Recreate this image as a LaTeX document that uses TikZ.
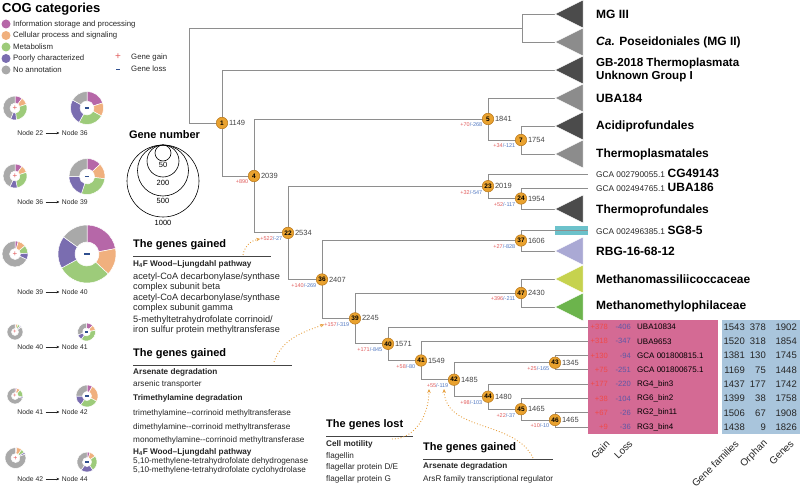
\documentclass[tikz,border=0pt]{standalone}
\usepackage{fontspec}
\setmainfont{Liberation Sans}
\usepackage{xcolor}
\usepackage{tikz}
\usetikzlibrary{arrows.meta}
\usetikzlibrary{positioning}
\definecolor{InfoC}{HTML}{B667A8}
\definecolor{CellC}{HTML}{F0B07E}
\definecolor{MetaC}{HTML}{9DCB7A}
\definecolor{PoorC}{HTML}{7A6DB0}
\definecolor{NoneC}{HTML}{A9A9A9}
\definecolor{GainRed}{HTML}{E05A5A}
\definecolor{LossBlue}{HTML}{4F76C0}
\definecolor{SignBlue}{HTML}{2F4F8F}
\definecolor{TabRed}{HTML}{F04A4A}
\definecolor{TabBlue}{HTML}{5E58A6}
\definecolor{TabPink}{HTML}{D46A94}
\definecolor{TabSky}{HTML}{A9C5DC}
\definecolor{NodeOrange}{HTML}{E9A22F}
\definecolor{NodeEdge}{HTML}{B9771A}
\definecolor{BranchGray}{HTML}{8E8E8E}
\definecolor{CladeDark}{HTML}{4B4B4B}
\definecolor{CladeLight}{HTML}{8C8C8C}
\definecolor{RBGC}{HTML}{AAA9D4}
\definecolor{MassC}{HTML}{C6D24E}
\definecolor{MethC}{HTML}{6CB44C}
\definecolor{SGC}{HTML}{6CC2CB}
\definecolor{LinkOrange}{HTML}{E6A040}
\definecolor{TextDark}{HTML}{262626}
\definecolor{ValGray}{HTML}{444444}
\definecolor{RuleGray}{HTML}{444444}
\newcommand{\fsz}[1]{\fontsize{#1}{#1}\selectfont}
\newcommand{\gl}[2]{\textcolor{GainRed}{+#1}\textcolor{LossBlue}{/-#2}}
\newcommand{\gsign}[1]{\fsz{#1}\textcolor{GainRed}{+}}
\newcommand{\lsign}[1]{\textcolor{SignBlue}{\rule[-0.7pt]{#1pt}{1.5pt}}}
\pgfdeclarelayer{bg}
\pgfsetlayers{bg,main}
\tikzset{
  TreeNode/.style={circle, fill=NodeOrange, draw=NodeEdge, line width=0.5pt,
    minimum size=11.5pt, inner sep=0pt, font=\bfseries\fsz{6.5}},
  NodeVal/.style={inner sep=0.8pt, text=ValGray, font=\fsz{7.5}},
  GainLoss/.style={anchor=east, inner sep=0pt, font=\fsz{5.5}},
  Branch/.style={draw=BranchGray, line width=0.9pt},
  CladeLabel/.style={anchor=west, inner sep=0pt, font=\bfseries\fsz{12}},
  Accession/.style={anchor=base west, inner sep=0pt},
  HeadText/.style={anchor=west, inner sep=0pt, font=\bfseries\fsz{11}},
  SubHead/.style={anchor=west, inner sep=0pt, font=\bfseries\fsz{8.2}, text=TextDark},
  BodyText/.style={anchor=west, inner sep=0pt, font=\fsz{8.2}, text=TextDark},
  BigBody/.style={BodyText, font=\fsz{9.2}},
  RuleLine/.style={draw=RuleGray, line width=0.8pt},
  GainLink/.style={draw=LinkOrange, dotted, line width=0.9pt,
    -{Stealth[length=4pt,width=3.5pt]}},
  LegText/.style={anchor=west, inner sep=0pt, font=\fsz{7.8}, text=TextDark},
  PairText/.style={inner sep=2.2pt, font=\fsz{6.8}, text=TextDark},
  PairArrow/.style={draw=TextDark, line width=0.4pt, -{Stealth[length=3pt,width=2.6pt]}},
  SizeText/.style={inner sep=0pt, font=\fsz{7.5}},
  TabGain/.style={anchor=east, inner sep=0pt, font=\fsz{7.6}, text=TabRed},
  TabLoss/.style={anchor=east, inner sep=0pt, font=\fsz{7.6}, text=TabBlue},
  TabName/.style={anchor=west, inner sep=0pt, font=\fsz{8}},
  TabNum/.style={anchor=east, inner sep=0pt, font=\fsz{9.5}, text=TextDark},
  ColHead/.style={anchor=east, rotate=45, inner sep=0pt, font=\fsz{10}, text=TextDark},
}
\newcommand{\cogring}[6]{%
  \begin{scope}[shift={(#1,#2)}]
    \gdef\cogA{90}
    \foreach \pv/\pcol in {#5} {
      \pgfmathsetmacro\cogB{\cogA-3.6*\pv}
      \fill[\pcol, draw=white, line width=0.5pt] (\cogA:#3pt) arc[start angle=\cogA, end angle=\cogB, radius=#3pt]
        -- (\cogB:#4pt) arc[start angle=\cogB, end angle=\cogA, radius=#4pt] -- cycle;
      \global\let\cogA\cogB
    }
    \node[inner sep=0pt] at (0,0) {#6};
  \end{scope}}

\begin{document}
\begin{tikzpicture}[x=1pt,y=-1pt]
\useasboundingbox (0,0) rectangle (800,497);

\node[anchor=west, inner sep=0pt, font=\bfseries\fsz{13}] (cogtitle) at (2,9) {COG categories};
\foreach \lc/\lt [count=\i] in {InfoC/Information storage and processing, CellC/Cellular process and signaling,
  MetaC/Metabolism, PoorC/Poorly characterized, NoneC/No annotation} {
  \pgfmathsetmacro\legy{24+11.5*(\i-1)}
  \fill[\lc] (6,\legy) circle[radius=4.5pt];
  \node[LegText] (leg\i) at (13,\legy) {\lt};
}
\node[inner sep=0pt, font=\fsz{10}, text=GainRed] (gsym) at (118,56.5) {+};
\node[LegText] (gtxt) at (131,57) {Gene gain};
\node[inner sep=0pt] (lsym) at (118,69.5) {\lsign{4}};
\node[LegText] (ltxt) at (131,69) {Gene loss};

\cogring{15}{108}{12}{5}{10/InfoC,10/CellC,28/MetaC,8/PoorC,44/NoneC}{\gsign{8}}
\cogring{87}{108}{16.5}{7}{20/InfoC,13/CellC,25/MetaC,25/PoorC,17/NoneC}{\lsign{4.5}}
\cogring{15}{176}{12}{5}{10/InfoC,10/CellC,27/MetaC,10/PoorC,43/NoneC}{\gsign{8}}
\cogring{87}{176.5}{18}{7.5}{13/InfoC,14/CellC,28/MetaC,20/PoorC,25/NoneC}{\lsign{4.5}}
\cogring{15}{254}{13}{5.5}{4/InfoC,10/CellC,10/MetaC,8/PoorC,68/NoneC}{\gsign{8}}
\cogring{87}{254}{29}{12}{22/InfoC,15/CellC,30/MetaC,18/PoorC,15/NoneC}{\lsign{5.5}}
\cogring{15}{332}{8}{3.5}{2/InfoC,4/CellC,5/MetaC,3/PoorC,86/NoneC}{\gsign{6}}
\cogring{86.5}{332}{9}{4}{12/InfoC,10/CellC,38/MetaC,10/PoorC,30/NoneC}{\lsign{3.5}}
\cogring{15}{396}{8}{3.5}{4/InfoC,7/CellC,16/MetaC,3/PoorC,70/NoneC}{\gsign{6}}
\cogring{87}{396}{11}{4.5}{8/InfoC,25/CellC,27/MetaC,15/PoorC,25/NoneC}{\lsign{4}}
\cogring{15.5}{458}{10.5}{4.5}{2/InfoC,8/CellC,6/MetaC,3/PoorC,81/NoneC}{\gsign{7}}
\cogring{87}{462}{10}{4.5}{5/InfoC,10/CellC,25/MetaC,20/PoorC,40/NoneC}{\lsign{4}}

\foreach \pa/\pb/\py [count=\i] in {22/36/133, 36/39/202, 39/40/292, 40/41/347, 41/42/412, 42/44/479} {
  \node[PairText, anchor=west] (pa\i) at (15,\py) {Node \pa};
  \node[PairText, anchor=east] (pb\i) at (90,\py) {Node \pb};
  \draw[PairArrow] (pa\i) -- (pb\i);
}

\node[HeadText, anchor=center] (gnum) at (164.5,135) {Gene number};
\foreach \rr/\rt/\ty in {8/50/165, 16/200/183, 25.5/500/201, 36/1000/223} {
  \draw[line width=0.6pt] (163,{145+\rr}) circle[radius=\rr pt];
  \node[SizeText] at (163,\ty) {\rt};
}

\foreach \n/\nx/\ny/\val/\glab in {
  1/222/123/1149/{},
  4/254/176/2039/{\textcolor{GainRed}{+890}},
  5/488/119/1841/{\gl{70}{268}},
  7/521/140/1754/{\gl{34}{121}},
  22/288/232.9/2534/{\gl{522}{27}},
  23/488/186.2/2019/{\gl{32}{547}},
  24/521/198.5/1954/{\gl{52}{117}},
  36/322/279.5/2407/{\gl{140}{269}},
  37/521/240.5/1606/{\gl{27}{828}},
  39/355/318.4/2245/{\gl{157}{319}},
  47/521/293/2430/{\gl{396}{211}},
  40/388/343.8/1571/{\gl{171}{845}},
  41/421/360.5/1549/{\gl{58}{80}},
  42/454/379.7/1485/{\gl{55}{119}},
  43/555/362.75/1345/{\gl{25}{165}},
  44/488/396.7/1480/{\gl{98}{103}},
  45/521/409.2/1465/{\gl{22}{37}},
  46/555/419.95/1465/{\gl{10}{10}}} {
  \node[TreeNode] (n\n) at (\nx,\ny) {\n};
  \node[NodeVal, right=0pt of n\n] (v\n) {\val};
  \node[GainLoss] (g\n) at ({\nx-5.5},{\ny+6}) {\glab};
}

\coordinate (root) at (189,75.5);
\coordinate (cMG) at (522,28);
\foreach \lf/\lx/\ly in {lMGIII/555/14, lMGII/555/42, lGB/555/70, lUBA184/555/98, lAcid/555/126,
  lThermopl/555/154, lCG/588/174, lUBA186/588/188, lThermopr/555/209, lSG/555/230, lRBG/555/251,
  lMassil/555/279, lMethyl/555/307}
  \coordinate (\lf) at (\lx,\ly);
\foreach \k in {1,...,8}
  \coordinate (lR\k) at (588,{327+14.3*(\k-1)});

\begin{pgfonlayer}{bg}
\foreach \a/\b in {root/cMG, root/n1, cMG/lMGIII, cMG/lMGII, n1/lGB, n1/n4, n4/n5, n4/n22,
  n5/lUBA184, n5/n7, n7/lAcid, n7/lThermopl, n22/n23, n22/n36, n23/lCG, n23/n24,
  n24/lUBA186, n24/lThermopr, n36/n37, n36/n39, n37/lSG, n37/lRBG, n39/n47, n39/n40,
  n47/lMassil, n47/lMethyl, n40/lR1, n40/n41, n41/lR2, n41/n42, n42/n43, n42/n44,
  n43/lR3, n43/lR4, n44/lR5, n44/n45, n45/lR6, n45/n46, n46/lR7, n46/lR8}
  \draw[Branch] (\a.center) |- (\b.center);
\end{pgfonlayer}

\foreach \yc/\trc in {14/CladeDark, 42/CladeLight, 70/CladeDark, 98/CladeLight, 126/CladeDark,
  154/CladeLight, 209/CladeDark, 251/RBGC, 279/MassC, 307/MethC}
  \fill[\trc, draw=white, line width=0.5pt] (555,\yc) -- (583,{\yc-14}) -- (583,{\yc+14}) -- cycle;
\fill[SGC] (555,226) rectangle (588,234.5);
\draw[BranchGray, line width=0.5pt] (lSG) -- (588,230);

\foreach \ly/\lt [count=\i] in {14/{MG III}, 42/{\textit{Ca.} Poseidoniales (MG II)}, 98/UBA184,
  126/Acidiprofundales, 154/Thermoplasmatales, 210/Thermoprofundales, 251/RBG-16-68-12,
  279/Methanomassiliicoccaceae, 306/Methanomethylophilaceae}
  \node[CladeLabel] (cl\i) at (596,\ly) {\lt};
\node[CladeLabel, align=left, font=\bfseries\fontsize{11.6}{12.8}\selectfont] (clGB) at (596,70)
  {GB-2018 Thermoplasmata\\Unknown Group I};
\foreach \ly/\acc/\nm [count=\i] in {178/{GCA 002790055.1}/CG49143, 192/{GCA 002494765.1}/UBA186,
  234/{GCA 002496385.1}/SG8-5}
  \node[Accession] (acc\i) at (596,\ly) {{\fsz{8.3}\color{TextDark}\acc}\ {\bfseries\fsz{12}\nm}};

\fill[TabPink] (588,320) rectangle (718,434);
\fill[TabSky] (722,320) rectangle (800,434);
\foreach \gv/\lv/\nm/\fv/\ov/\tv [count=\k from 0] in {
  378/406/UBA10834/1543/378/1902,
  318/347/UBA9653/1520/318/1854,
  130/94/GCA 001800815.1/1381/130/1745,
  75/251/GCA 001800675.1/1169/75/1448,
  177/220/RG4\_bin3/1437/177/1742,
  38/104/RG6\_bin2/1399/38/1758,
  67/26/RG2\_bin11/1506/67/1908,
  9/36/RG3\_bin4/1438/9/1826} {
  \pgfmathsetmacro\ry{327+14.3*\k}
  \node[TabGain] (tg\k) at (608,\ry) {+\gv};
  \node[TabLoss] (tl\k) at (631,\ry) {-\lv};
  \node[TabName] (tn\k) at (637,\ry) {\nm};
  \node[TabNum] (tf\k) at (745,\ry) {\fv};
  \node[TabNum] (to\k) at (766,\ry) {\ov};
  \node[TabNum] (tt\k) at (797,\ry) {\tv};
}
\node[ColHead] (hGain) at (608,442) {Gain};
\node[ColHead] (hLoss) at (631,442) {Loss};
\node[ColHead] (hFam) at (737,442) {Gene families};
\node[ColHead] (hOrph) at (766,442) {Orphan};
\node[ColHead] (hGenes) at (792,442) {Genes};

\node[HeadText] (hdA) at (133,245) {The genes gained};
\draw[RuleLine] (133,256) -- (271,256);
\foreach \ty/\tx/\st [count=\i] in {264/{H\textsubscript{4}F Wood--Ljungdahl pathway}/SubHead,
  277/{acetyl-CoA decarbonylase/synthase}/BigBody, 287/{complex subunit beta}/BigBody,
  298/{acetyl-CoA decarbonylase/synthase}/BigBody, 308/{complex subunit gamma}/BigBody,
  320/{5-methyltetrahydrofolate corrinoid/}/BigBody, 330/{iron sulfur protein methyltransferase}/BigBody}
  \node[\st] (tA\i) at (133,\ty) {\tx};

\node[HeadText] (hdB) at (133,354) {The genes gained};
\draw[RuleLine] (133,365) -- (292,365);
\foreach \ty/\tx/\st [count=\i] in {372/{Arsenate degradation}/SubHead,
  384/{arsenic transporter}/BodyText, 398/{Trimethylamine degradation}/SubHead,
  413/{trimethylamine-{}-corrinoid methyltransferase}/BodyText,
  427/{dimethylamine-{}-corrinoid methyltransferase}/BodyText,
  440/{monomethylamine-{}-corrinoid methyltransferase}/BodyText,
  452/{H\textsubscript{4}F Wood--Ljungdahl pathway}/SubHead,
  461/{5,10-methylene-tetrahydrofolate dehydrogenase}/BodyText,
  470/{5,10-methylene-tetrahydrofolate cyclohydrolase}/BodyText}
  \node[\st] (tB\i) at (133,\ty) {\tx};

\node[HeadText] (hdC) at (326,425) {The genes lost};
\draw[RuleLine] (326,436) -- (413,436);
\foreach \ty/\tx/\st [count=\i] in {444/{Cell motility}/SubHead, 456/{flagellin}/BodyText,
  467/{flagellar protein D/E}/BodyText, 479/{flagellar protein G}/BodyText}
  \node[\st] (tC\i) at (326,\ty) {\tx};

\node[HeadText] (hdD) at (423,448) {The genes gained};
\draw[RuleLine] (423,459) -- (553,459);
\node[SubHead] (tD1) at (423,466) {Arsenate degradation};
\node[BodyText] (tD2) at (423,479) {ArsR family transcriptional regulator};

\coordinate (lkA) at (243,255);
\draw[GainLink] (lkA) to[out=80,in=190] (g22.west);
\coordinate (lkB) at (274,362);
\draw[GainLink] (lkB) to[out=70,in=200] (g39.west);
\coordinate (lkC) at (392,439);
\coordinate (tipC) at (429,389);
\draw[GainLink] (lkC) to[out=0,in=-90] (tipC);
\coordinate (lkD) at (533,458);
\coordinate (tipD) at (444,389);
\draw[GainLink] (lkD) .. controls (515,420) and (446,432) .. (tipD);
\end{tikzpicture}
\end{document}
